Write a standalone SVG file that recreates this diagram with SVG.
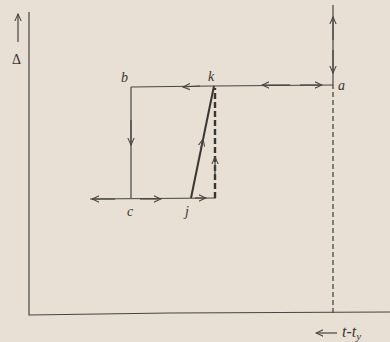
<svg xmlns="http://www.w3.org/2000/svg" width="390" height="342" viewBox="0 0 390 342">
<defs>
<marker id="ah" viewBox="0 0 10 10" refX="9" refY="5" markerWidth="8" markerHeight="8" orient="auto" markerUnits="userSpaceOnUse">
<path d="M0,1 L9,5 L0,9" fill="none" stroke="#4a4540" stroke-width="1.3"/>
</marker>
</defs>
<style>
.ln{stroke:#4a4540;stroke-width:1.2;fill:none}
.th{stroke:#3a3530;stroke-width:2;fill:none}
.ds{stroke:#4a4540;stroke-width:1.3;fill:none;stroke-dasharray:5,3}
.dt{stroke:#3a3530;stroke-width:2.4;fill:none;stroke-dasharray:6,3}
.lb{font-family:"Liberation Serif",serif;font-style:italic;font-size:14px;fill:#3a3530}
</style>
<rect width="390" height="342" fill="#e8dfd5"/>
<g id="axes">
<path class="ln" d="M29,12 L29,315 L170,313 L390,312"/>
<path class="ln" d="M18,42 L18,14" marker-end="url(#ah)"/>
<text class="lb" x="12" y="64" style="font-style:normal">Δ</text>
<path class="ln" d="M337,333 L316,333" marker-end="url(#ah)"/>
<text class="lb" x="342" y="337" style="font-size:16px">t-t<tspan style="font-size:11px" dy="3">y</tspan></text>
</g>
<g id="connectors">
<path class="ln" d="M333,5 L333,84"/>
<path class="ln" d="M333,40 L333,17" marker-end="url(#ah)"/>
<path class="ln" d="M333,50 L333,73" marker-end="url(#ah)"/>
<path class="ds" d="M333,84 L333,313"/>
<path class="ln" d="M333,85 L213,86 L131,87"/>
<path class="ln" d="M300,85 L322,85" marker-end="url(#ah)"/>
<path class="ln" d="M290,85 L262,85" marker-end="url(#ah)"/>
<path class="ln" d="M200,86 L183,87" marker-end="url(#ah)"/>
<path class="ln" d="M131,87 L131,198"/>
<path class="ln" d="M131,120 L131,145" marker-end="url(#ah)"/>
<path class="ln" d="M90,199 L216,198"/>
<path class="ln" d="M115,199 L92,199" marker-end="url(#ah)"/>
<path class="ln" d="M140,199 L161,199" marker-end="url(#ah)"/>
<path class="ln" d="M195,198 L206,198" marker-end="url(#ah)"/>
<path class="th" d="M191,198 L214,86"/>
<path class="ln" d="M200.6,150 L203,139" marker-end="url(#ah)"/>
<path class="dt" d="M215,198 L215,88"/>
<path class="ln" d="M215,175 L215,157" marker-end="url(#ah)"/>
</g>
<g id="a"><text class="lb" x="338" y="90">a</text></g>
<g id="b"><text class="lb" x="121" y="82">b</text></g>
<g id="k"><text class="lb" x="208" y="81">k</text></g>
<g id="c"><text class="lb" x="127" y="216">c</text></g>
<g id="j"><text class="lb" x="185" y="216">j</text></g>
</svg>
